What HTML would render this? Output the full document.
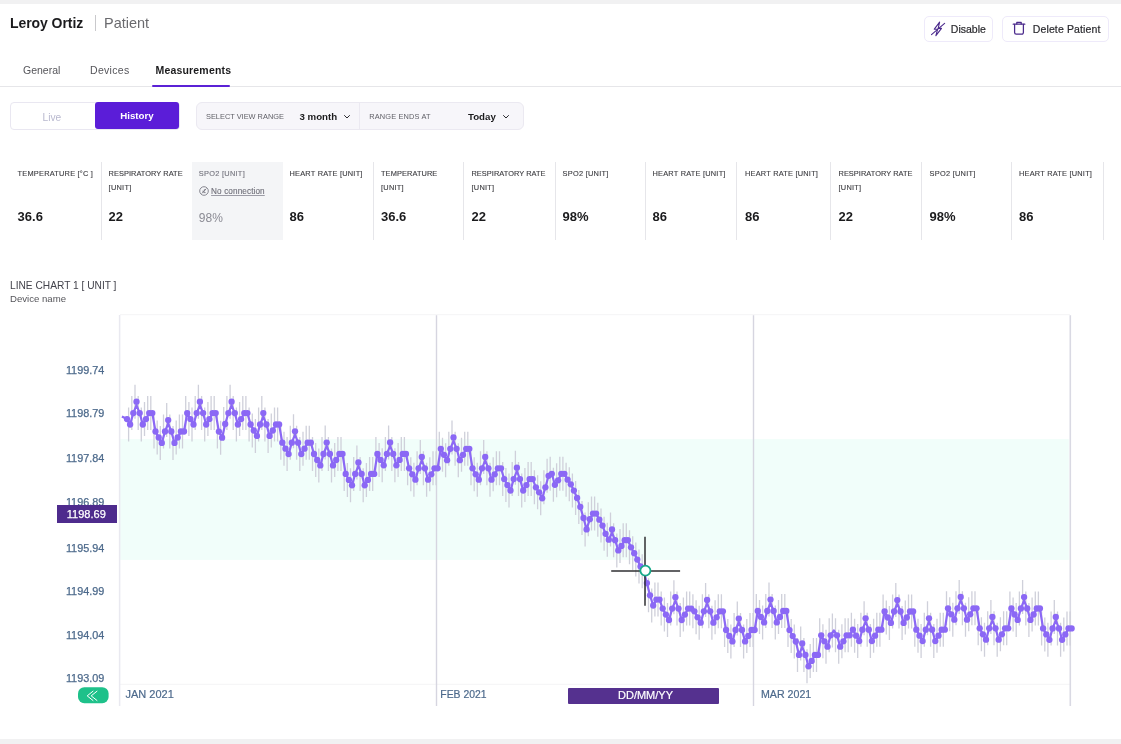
<!DOCTYPE html>
<html lang="en">
<head>
<meta charset="utf-8">
<title>Leroy Ortiz | Patient - Measurements</title>
<style>
*{box-sizing:border-box;margin:0;padding:0}
html,body{width:1121px;height:744px;overflow:hidden;background:#fff}
body{font-family:"Liberation Sans",sans-serif;color:#1c1c1e;position:relative}
.abs{position:absolute;white-space:nowrap;line-height:1}
.bar{position:absolute;left:0;width:1121px;background:#f1f1f2}
#topbar{top:0;height:4px}
#botbar{top:739px;height:5px}
#name{left:10px;top:16px;font-size:14px;letter-spacing:-.07px;font-weight:700;color:#1b1b1d}
#sep{left:95px;top:15px;width:1px;height:16px;background:#c9c9cc}
#role{left:104px;top:16px;font-size:14.5px;color:#6a6a6e}
.btn{position:absolute;top:15.7px;height:26.2px;border:1px solid #eeeafa;border-radius:5px;background:#fff}
#btn1{left:924px;width:69px}
#btn2{left:1002px;width:107px}
.btn span{-webkit-text-stroke:.2px #2a2a2e;position:absolute;top:7.3px;font-size:10.5px;color:#2a2a2e;white-space:nowrap;line-height:1}
.btn svg{position:absolute}
.tab{top:64.9px;font-size:10.5px;color:#55555a}
#tabline{position:absolute;left:0;top:86px;width:1121px;height:1px;background:#e6e6e9}
#tabul{position:absolute;left:152.2px;top:85px;width:78px;height:2.3px;background:#5b21d6;border-radius:1px}
#toggle{position:absolute;left:9.5px;top:101.8px;width:170px;height:27.9px;border:1px solid #e9e7f1;border-radius:4px;background:#fff}
#hist{position:absolute;left:95px;top:102.1px;width:84.3px;height:26.9px;background:#5b1dd8;border-radius:3px}
#live{left:42.5px;top:112.6px;font-size:10.2px;color:#b9b9cf}
#histt{left:120.3px;top:110.8px;font-size:9.7px;font-weight:700;color:#fff}
#range{position:absolute;left:196px;top:101.7px;width:328px;height:28px;border:1px solid #ebe9f1;border-radius:6px;background:#f7f6fa}
#rdiv{position:absolute;left:359px;top:103px;width:1px;height:26px;background:#ebe9f1}
.cap{font-size:7.4px;color:#5f5f66;letter-spacing:0;top:113.2px}
.sel{font-size:9.7px;font-weight:700;color:#1b1b1d;top:112px}
.card{position:absolute;top:162px;height:78px;width:91px;border-right:1px solid #e6e6ea}
.card .l{-webkit-text-stroke:.12px currentColor;position:absolute;left:7px;top:4.8px;font-size:7.4px;line-height:14.2px;color:#3c3c40;letter-spacing:.1px;white-space:nowrap}
.card .v{position:absolute;left:7px;top:47.6px;font-size:13px;font-weight:700;color:#1b1b1d;line-height:1}
.card.off{background:#f4f5f7;border-right:0;width:91.3px !important}
.card.off .l{color:#74747e}
.card.off .v{color:#8b8b94;font-weight:400;font-size:12px;top:49.6px}
#ctitle{left:10px;top:280.7px;font-size:10.2px;color:#43434c}
#csub{left:10px;top:294px;font-size:9.6px;color:#55555a}
#chart{position:absolute;left:0;top:0;width:1121px;height:744px}
#chart text{font-family:"Liberation Sans",sans-serif}
</style>
</head>
<body>
<div class="bar" id="topbar"></div>
<div class="bar" id="botbar"></div>
<div class="abs" id="name">Leroy Ortiz</div>
<div class="abs" id="sep"></div>
<div class="abs" id="role">Patient</div>

<div class="btn" id="btn1">
<svg style="left:6px;top:4px" width="16" height="16" viewBox="0 0 16 16" fill="none" stroke="#4b2a8c" stroke-width="1.1" stroke-linecap="round" stroke-linejoin="round"><path d="M8.6 1.1 3.3 8.2h3.3L4.9 14.6l5.6-7.2H7.2z"/><path d="M.5 13.6 13.6 2.4"/></svg>
<span style="left:25.8px">Disable</span></div>
<div class="btn" id="btn2">
<svg style="left:8px;top:3px" width="16" height="16" viewBox="0 0 16 16" fill="none" stroke="#4b2a8c" stroke-width="1.25" stroke-linecap="round" stroke-linejoin="round"><path d="M2.2 4.2h11.6"/><path d="M5.8 4V2.4h4.4V4"/><path d="M3.6 4.4v8.2a1.6 1.6 0 0 0 1.6 1.6h5.6a1.6 1.6 0 0 0 1.6-1.6V4.4"/></svg>
<span style="left:29.8px;letter-spacing:.12px">Delete Patient</span></div>

<div class="abs tab" id="t1" style="left:23px">General</div>
<div class="abs tab" id="t2" style="left:90px;letter-spacing:.3px">Devices</div>
<div class="abs tab" id="t3" style="left:155.5px;font-weight:700;color:#1b1b1d;letter-spacing:.18px">Measurements</div>
<div id="tabline"></div>
<div id="tabul"></div>

<div id="toggle"></div>
<div id="hist"></div>
<div class="abs" id="live">Live</div>
<div class="abs" id="histt">History</div>

<div id="range"></div>
<div id="rdiv"></div>
<div class="abs cap" id="c1" style="left:206px">SELECT VIEW RANGE</div>
<div class="abs sel" id="s1" style="left:299.5px">3 month</div>
<svg class="abs" style="left:342.5px;top:114px" width="8" height="6" viewBox="0 0 8 6" fill="none" stroke="#2a2a2e" stroke-width="1" stroke-linecap="round" stroke-linejoin="round"><path d="M1.5 1.5 4 4l2.5-2.5"/></svg>
<div class="abs cap" id="c2" style="left:369.3px;letter-spacing:.15px">RANGE ENDS AT</div>
<div class="abs sel" id="s2" style="left:468px">Today</div>
<svg class="abs" style="left:502.3px;top:114px" width="8" height="6" viewBox="0 0 8 6" fill="none" stroke="#2a2a2e" stroke-width="1" stroke-linecap="round" stroke-linejoin="round"><path d="M1.5 1.5 4 4l2.5-2.5"/></svg>

<div class="card" style="left:10px;width:92px"><div class="l" style="left:7.6px"><span style="letter-spacing:0.22px">TEMPERATURE [°C ]</span></div><div class="v" style="left:7.6px">36.6</div></div>
<div class="card" style="left:101px;width:92px"><div class="l" style="left:7.6px"><span style="letter-spacing:0.05px">RESPIRATORY RATE</span><br><span style="letter-spacing:.25px">[UNIT]</span></div><div class="v" style="left:7.6px">22</div></div>
<div class="card off" style="left:192px;width:92px"><div class="l" style="left:6.8px"><span style="letter-spacing:0.28px">SPO2 [UNIT]</span><br><svg style="position:relative;top:5.2px;left:-.2px;margin-right:2.3px" width="10" height="10" viewBox="0 0 10 10" fill="none" stroke="#74747e" stroke-width=".85"><circle cx="5" cy="5" r="4.3"/><path d="M2.9 7.4 7.3 2.6M3.4 5.2h2.2M4.4 6.6h2.2M4.9 3.8h1.6"/></svg><span style="position:relative;top:2.7px;text-decoration:underline;text-decoration-color:#9c9ca6;text-decoration-thickness:.7px;text-underline-offset:.6px;font-size:8.2px;color:#70707a">No connection</span></div><div class="v" style="left:6.8px">98%</div></div>
<div class="card" style="left:283px;width:91px"><div class="l" style="left:6.5px"><span style="letter-spacing:0.22px">HEART RATE [UNIT]</span></div><div class="v" style="left:6.5px">86</div></div>
<div class="card" style="left:373px;width:91.30000000000001px"><div class="l" style="left:8.0px"><span style="letter-spacing:0.1px">TEMPERATURE</span><br><span style="letter-spacing:.25px">[UNIT]</span></div><div class="v" style="left:8.0px">36.6</div></div>
<div class="card" style="left:463.3px;width:92.30000000000001px"><div class="l" style="left:8.2px"><span style="letter-spacing:0.05px">RESPIRATORY RATE</span><br><span style="letter-spacing:.25px">[UNIT]</span></div><div class="v" style="left:8.2px">22</div></div>
<div class="card" style="left:554.6px;width:91.39999999999998px"><div class="l" style="left:7.9px"><span style="letter-spacing:0.28px">SPO2 [UNIT]</span></div><div class="v" style="left:7.9px">98%</div></div>
<div class="card" style="left:645px;width:91.5px"><div class="l" style="left:7.5px"><span style="letter-spacing:0.22px">HEART RATE [UNIT]</span></div><div class="v" style="left:7.5px">86</div></div>
<div class="card" style="left:735.5px;width:95.0px"><div class="l" style="left:9.5px"><span style="letter-spacing:0.22px">HEART RATE [UNIT]</span></div><div class="v" style="left:9.5px">86</div></div>
<div class="card" style="left:829.5px;width:92.0px"><div class="l" style="left:9.0px"><span style="letter-spacing:0.05px">RESPIRATORY RATE</span><br><span style="letter-spacing:.25px">[UNIT]</span></div><div class="v" style="left:9.0px">22</div></div>
<div class="card" style="left:920.5px;width:91.5px"><div class="l" style="left:9.0px"><span style="letter-spacing:0.28px">SPO2 [UNIT]</span></div><div class="v" style="left:9.0px">98%</div></div>
<div class="card" style="left:1011px;width:92.5px"><div class="l" style="left:8.0px"><span style="letter-spacing:0.22px">HEART RATE [UNIT]</span></div><div class="v" style="left:8.0px">86</div></div>

<div class="abs" id="ctitle">LINE CHART 1 [ UNIT ]</div>
<div class="abs" id="csub">Device name</div>

<svg id="chart" viewBox="0 0 1121 744">
<rect x="120.2" y="439.1" width="948.6" height="120.8" fill="#f1fefa"/>
<path d="M120 314.7H1070M120 684.3H1070" stroke="#f4f4f6" stroke-width="1"/>
<path d="M119.6 315V706" stroke="#e9e9f0" stroke-width="1.5"/>
<path d="M436.5 315.3V706M753.5 315.3V706" stroke="#d6d5e0" stroke-width="1.4"/>
<path d="M1070.3 315.3V706" stroke="#d9d9e3" stroke-width="1.6"/>
<g font-size="10.85" fill="#4d6a8c" stroke="#4d6a8c" stroke-width=".25" text-anchor="end"><text x="104.3" y="373.95">1199.74</text><text x="104.3" y="416.95">1198.79</text><text x="104.3" y="461.95">1197.84</text><text x="104.3" y="505.95">1196.89</text><text x="104.3" y="551.95">1195.94</text><text x="104.3" y="594.95">1194.99</text><text x="104.3" y="638.95">1194.04</text><text x="104.3" y="681.95">1193.09</text></g>
<rect x="57" y="505" width="60" height="18" fill="#4e2b8d"/>
<text x="86.3" y="518" font-size="11" fill="#fff" stroke="#fff" stroke-width=".25" text-anchor="middle">1198.69</text>
<g font-size="11" fill="#4d6a8c" stroke="#4d6a8c" stroke-width=".2"><text x="125.5" y="697.9">JAN 2021</text><text x="440.3" y="697.9" font-size="10.4">FEB 2021</text><text x="761" y="697.9" font-size="10.65">MAR 2021</text></g>
<rect x="568" y="688" width="151" height="16" rx="1" fill="#55318f"/>
<text x="645.5" y="699.4" font-size="11" fill="#fff" stroke="#fff" stroke-width=".2" text-anchor="middle">DD/MM/YY</text>
<rect x="78" y="687.2" width="30.6" height="16" rx="6.3" fill="#1ec18a"/>
<path d="M93 691.2 87.2 695.85 93 700.5M97 691.2 91.2 695.85 97 700.5" stroke="#fff" stroke-width="1" fill="none" stroke-linecap="round" stroke-linejoin="round"/>
<path d="M128.6 407.5V441.5M131.8 396.1V430.1M135.0 384.7V418.7M138.2 396.1V430.1M141.3 407.5V441.5M144.5 402.1V436.1M147.7 396.1V430.1M150.8 396.1V430.1M154.0 414.5V448.5M157.2 420.5V454.5M160.3 425.9V459.9M163.5 414.5V448.5M166.7 403.1V437.1M169.8 414.5V448.5M173.0 425.9V459.9M176.2 420.5V454.5M179.4 414.5V448.5M182.5 414.5V448.5M185.7 396.1V430.1M188.9 402.1V436.1M192.0 407.5V441.5M195.2 396.1V430.1M198.4 384.7V418.7M201.6 396.1V430.1M204.7 407.5V441.5M207.9 402.1V436.1M211.1 396.1V430.1M214.2 396.1V430.1M217.4 414.6V448.6M220.6 420.7V454.7M223.7 407.0V441.0M226.9 396.1V430.1M230.1 384.7V418.7M233.2 396.1V430.1M236.4 407.5V441.5M239.6 402.1V436.1M242.8 396.1V430.1M245.9 396.1V430.1M249.1 407.5V441.5M252.3 413.5V447.5M255.4 418.9V452.9M258.6 407.5V441.5M261.8 396.1V430.1M264.9 407.5V441.5M268.1 418.9V452.9M271.3 413.5V447.5M274.5 407.5V441.5M277.6 407.5V441.5M280.8 425.7V459.7M284.0 431.7V465.7M287.1 437.1V471.1M290.3 425.7V459.7M293.5 414.3V448.3M296.6 425.7V459.7M299.8 437.1V471.1M303.0 431.7V465.7M306.2 425.7V459.7M309.3 425.7V459.7M312.5 437.0V471.0M315.7 443.0V477.0M318.8 448.4V482.4M322.0 437.0V471.0M325.2 425.6V459.6M328.4 437.0V471.0M331.5 448.4V482.4M334.7 443.0V477.0M337.9 437.0V471.0M341.0 437.0V471.0M344.2 456.9V490.9M347.4 462.9V496.9M350.5 468.3V502.3M353.7 456.9V490.9M356.9 445.5V479.5M360.1 456.9V490.9M363.2 468.3V502.3M366.4 462.9V496.9M369.6 456.9V490.9M372.7 456.9V490.9M375.9 436.9V470.9M379.1 442.9V476.9M382.2 448.3V482.3M385.4 436.9V470.9M388.6 425.5V459.5M391.8 436.9V470.9M394.9 448.3V482.3M398.1 442.9V476.9M401.3 436.9V470.9M404.4 436.9V470.9M407.6 451.3V485.3M410.8 457.3V491.3M413.9 462.7V496.7M417.1 451.3V485.3M420.3 439.9V473.9M423.4 451.3V485.3M426.6 462.7V496.7M429.8 457.3V491.3M433.0 451.3V485.3M436.1 451.3V485.3M439.3 431.8V465.8M442.5 437.8V471.8M445.6 443.2V477.2M448.8 431.8V465.8M452.0 420.4V454.4M455.1 431.8V465.8M458.3 443.2V477.2M461.5 437.8V471.8M464.7 431.8V465.8M467.8 431.8V465.8M471.0 451.3V485.3M474.2 457.3V491.3M477.3 462.7V496.7M480.5 451.3V485.3M483.7 439.9V473.9M486.9 451.3V485.3M490.0 462.7V496.7M493.2 457.3V491.3M496.4 451.3V485.3M499.5 451.3V485.3M502.7 462.1V496.1M505.9 468.1V502.1M509.0 473.5V507.5M512.2 462.1V496.1M515.4 450.7V484.7M518.5 462.1V496.1M521.7 473.5V507.5M524.9 468.1V502.1M528.1 462.1V496.1M531.2 462.1V496.1M534.4 470.3V504.3M537.6 475.3V509.3M540.7 481.3V515.3M543.9 470.3V504.3M547.1 458.8V492.8M550.2 456.8V490.8M553.4 467.8V501.8M556.6 463.3V497.3M559.8 456.8V490.8M562.9 456.8V490.8M566.1 462.7V496.7M569.3 467.3V501.3M572.4 473.6V507.6M575.6 481.0V515.0M578.8 490.0V524.0M582.0 501.0V535.0M585.1 512.4V546.4M588.3 502.2V536.2M591.5 496.6V530.6M594.6 496.6V530.6M597.8 502.7V536.7M601.0 508.6V542.6M604.1 516.8V550.8M607.3 522.7V556.7M610.5 512.4V546.4M613.6 523.2V557.2M616.8 533.4V567.4M620.0 529.0V563.0M623.2 523.2V557.2M626.3 523.2V557.2M629.5 530.3V564.3M632.7 536.2V570.2M635.8 542.6V576.6M639.0 549.5V583.5M642.2 554.3V588.3M645.4 566.1V600.1M648.5 578.3V612.3M651.7 588.5V622.5M654.9 582.6V616.6M658.0 582.6V616.6M661.2 591.6V625.6M664.4 597.6V631.6M667.5 603.0V637.0M670.7 591.6V625.6M673.9 580.2V614.2M677.0 591.6V625.6M680.2 603.0V637.0M683.4 597.6V631.6M686.6 591.6V625.6M689.7 591.6V625.6M692.9 594.3V628.3M696.1 600.3V634.3M699.2 605.7V639.7M702.4 594.3V628.3M705.6 582.9V616.9M708.8 594.3V628.3M711.9 605.7V639.7M715.1 600.3V634.3M718.3 594.3V628.3M721.4 594.3V628.3M724.6 613.0V647.0M727.8 619.0V653.0M730.9 624.4V658.4M734.1 613.0V647.0M737.3 601.6V635.6M740.5 613.0V647.0M743.6 624.4V658.4M746.8 619.0V653.0M750.0 613.0V647.0M753.1 613.0V647.0M756.3 594.0V628.0M759.5 600.0V634.0M762.6 605.4V639.4M765.8 594.0V628.0M769.0 582.6V616.6M772.1 594.0V628.0M775.3 605.4V639.4M778.5 600.0V634.0M781.7 594.0V628.0M784.8 594.0V628.0M788.0 613.1V647.1M791.2 619.1V653.1M794.3 624.5V658.5M797.5 637.9V671.9M800.7 626.5V660.5M803.9 637.9V671.9M807.0 649.3V683.3M810.2 643.9V677.9M813.4 637.9V671.9M816.5 637.9V671.9M819.7 618.3V652.3M822.9 624.3V658.3M826.0 629.7V663.7M829.2 618.3V652.3M832.4 613.4V647.4M835.5 618.3V652.3M838.7 629.7V663.7M841.9 624.3V658.3M845.1 618.3V652.3M848.2 618.3V652.3M851.4 612.7V646.7M854.6 618.7V652.7M857.7 624.1V658.1M860.9 612.7V646.7M864.1 601.3V635.3M867.2 612.7V646.7M870.4 624.1V658.1M873.6 618.7V652.7M876.8 612.7V646.7M879.9 612.7V646.7M883.1 594.5V628.5M886.3 600.5V634.5M889.4 605.9V639.9M892.6 594.5V628.5M895.8 583.1V617.1M899.0 594.5V628.5M902.1 605.9V639.9M905.3 600.5V634.5M908.5 594.5V628.5M911.6 594.5V628.5M914.8 612.7V646.7M918.0 618.7V652.7M921.1 624.1V658.1M924.3 612.7V646.7M927.5 601.3V635.3M930.6 612.7V646.7M933.8 624.1V658.1M937.0 618.7V652.7M940.2 612.7V646.7M943.3 612.7V646.7M946.5 591.3V625.3M949.7 597.3V631.3M952.8 602.7V636.7M956.0 591.3V625.3M959.2 579.9V613.9M962.4 591.3V625.3M965.5 602.7V636.7M968.7 597.3V631.3M971.9 591.3V625.3M975.0 591.3V625.3M978.2 611.3V645.3M981.4 617.3V651.3M984.5 622.7V656.7M987.7 611.3V645.3M990.9 599.9V633.9M994.0 611.3V645.3M997.2 622.7V656.7M1000.4 617.3V651.3M1003.6 611.3V645.3M1006.7 611.3V645.3M1009.9 591.5V625.5M1013.1 597.5V631.5M1016.2 602.9V636.9M1019.4 591.5V625.5M1022.6 580.1V614.1M1025.8 591.5V625.5M1028.9 602.9V636.9M1032.1 597.5V631.5M1035.3 591.5V625.5M1038.4 591.5V625.5M1041.6 611.4V645.4M1044.8 617.4V651.4M1047.9 622.8V656.8M1051.1 611.4V645.4M1054.3 600.0V634.0M1057.5 611.4V645.4M1060.6 622.8V656.8M1063.8 617.4V651.4M1067.0 611.4V645.4M1070.1 611.4V645.4" stroke="#cfd0da" stroke-width="1.3" fill="none"/>
<polyline fill="none" stroke="#8b68f5" stroke-width="2.2" stroke-linejoin="round" points="121.9,416.5 127.0,419.1 130.1,424.5 133.3,413.1 136.5,405.1 139.7,413.1 142.8,424.5 146.0,419.1 149.2,413.1 152.3,413.1 155.5,431.5 158.7,437.5 161.8,442.9 165.0,431.5 168.2,423.5 171.3,431.5 174.5,442.9 177.7,437.5 180.9,431.5 184.0,431.5 187.2,413.1 190.4,419.1 193.5,424.5 196.7,413.1 199.9,405.1 203.1,413.1 206.2,424.5 209.4,419.1 212.6,413.1 215.7,413.1 218.9,431.6 222.1,437.7 225.2,424.0 228.4,413.1 231.6,405.1 234.8,413.1 237.9,424.5 241.1,419.1 244.3,413.1 247.4,413.1 250.6,424.5 253.8,430.5 256.9,435.9 260.1,424.5 263.3,416.5 266.4,424.5 269.6,435.9 272.8,430.5 276.0,424.5 279.1,424.5 282.3,442.7 285.5,448.7 288.6,454.1 291.8,442.7 295.0,434.7 298.1,442.7 301.3,454.1 304.5,448.7 307.7,442.7 310.8,442.7 314.0,454.0 317.2,460.0 320.3,465.4 323.5,454.0 326.7,446.0 329.9,454.0 333.0,465.4 336.2,460.0 339.4,454.0 342.5,454.0 345.7,473.9 348.9,479.9 352.0,485.3 355.2,473.9 358.4,465.9 361.6,473.9 364.7,485.3 367.9,479.9 371.1,473.9 374.2,473.9 377.4,453.9 380.6,459.9 383.7,465.3 386.9,453.9 390.1,445.9 393.2,453.9 396.4,465.3 399.6,459.9 402.8,453.9 405.9,453.9 409.1,468.3 412.3,474.3 415.4,479.7 418.6,468.3 421.8,460.3 424.9,468.3 428.1,479.7 431.3,474.3 434.5,468.3 437.6,468.3 440.8,448.8 444.0,454.8 447.1,460.2 450.3,448.8 453.5,440.8 456.6,448.8 459.8,460.2 463.0,454.8 466.2,448.8 469.3,448.8 472.5,468.3 475.7,474.3 478.8,479.7 482.0,468.3 485.2,460.3 488.4,468.3 491.5,479.7 494.7,474.3 497.9,468.3 501.0,468.3 504.2,479.1 507.4,485.1 510.5,490.5 513.7,479.1 516.9,471.1 520.0,479.1 523.2,490.5 526.4,485.1 529.6,479.1 532.7,479.1 535.9,487.3 539.1,492.3 542.2,498.3 545.4,487.3 548.6,475.8 551.8,473.8 554.9,484.8 558.1,480.3 561.3,473.8 564.4,473.8 567.6,479.7 570.8,484.3 573.9,490.6 577.1,498.0 580.3,507.0 583.5,518.0 586.6,529.4 589.8,519.2 593.0,513.6 596.1,513.6 599.3,519.7 602.5,525.6 605.6,533.8 608.8,539.7 612.0,532.8 615.1,540.2 618.3,550.4 621.5,546.0 624.7,540.2 627.8,540.2 631.0,547.3 634.2,553.2 637.3,559.6 640.5,566.5 643.7,571.3 646.9,583.1 650.0,595.3 653.2,605.5 656.4,599.6 659.5,599.6 662.7,608.6 665.9,614.6 669.0,620.0 672.2,608.6 675.4,600.6 678.5,608.6 681.7,620.0 684.9,614.6 688.1,608.6 691.2,608.6 694.4,611.3 697.6,617.3 700.7,622.7 703.9,611.3 707.1,603.3 710.2,611.3 713.4,622.7 716.6,617.3 719.8,611.3 722.9,611.3 726.1,630.0 729.3,636.0 732.4,641.4 735.6,630.0 738.8,622.0 742.0,630.0 745.1,641.4 748.3,636.0 751.5,630.0 754.6,630.0 757.8,611.0 761.0,617.0 764.1,622.4 767.3,611.0 770.5,603.0 773.6,611.0 776.8,622.4 780.0,617.0 783.2,611.0 786.3,611.0 789.5,630.1 792.7,636.1 795.8,641.5 799.0,654.9 802.2,646.9 805.4,654.9 808.5,666.3 811.7,660.9 814.9,654.9 818.0,654.9 821.2,635.3 824.4,641.3 827.5,646.7 830.7,635.3 833.9,630.4 837.0,635.3 840.2,646.7 843.4,641.3 846.6,635.3 849.7,635.3 852.9,629.7 856.1,635.7 859.2,641.1 862.4,629.7 865.6,621.7 868.8,629.7 871.9,641.1 875.1,635.7 878.3,629.7 881.4,629.7 884.6,611.5 887.8,617.5 890.9,622.9 894.1,611.5 897.3,603.5 900.5,611.5 903.6,622.9 906.8,617.5 910.0,611.5 913.1,611.5 916.3,629.7 919.5,635.7 922.6,641.1 925.8,629.7 929.0,621.7 932.1,629.7 935.3,641.1 938.5,635.7 941.7,629.7 944.8,629.7 948.0,608.3 951.2,614.3 954.3,619.7 957.5,608.3 960.7,600.3 963.9,608.3 967.0,619.7 970.2,614.3 973.4,608.3 976.5,608.3 979.7,628.3 982.9,634.3 986.0,639.7 989.2,628.3 992.4,620.3 995.5,628.3 998.7,639.7 1001.9,634.3 1005.1,628.3 1008.2,628.3 1011.4,608.5 1014.6,614.5 1017.7,619.9 1020.9,608.5 1024.1,600.5 1027.2,608.5 1030.4,619.9 1033.6,614.5 1036.8,608.5 1039.9,608.5 1043.1,628.4 1046.3,634.4 1049.4,639.8 1052.6,628.4 1055.8,620.4 1059.0,628.4 1062.1,639.8 1065.3,634.4 1068.5,628.4 1071.6,628.4"/>
<g fill="#8b68f5"><circle cx="127.0" cy="419.1" r="3.15"/><circle cx="130.1" cy="424.5" r="3.15"/><circle cx="133.3" cy="413.1" r="3.15"/><circle cx="136.5" cy="401.7" r="3.15"/><circle cx="139.7" cy="413.1" r="3.15"/><circle cx="142.8" cy="424.5" r="3.15"/><circle cx="146.0" cy="419.1" r="3.15"/><circle cx="149.2" cy="413.1" r="3.15"/><circle cx="152.3" cy="413.1" r="3.15"/><circle cx="155.5" cy="431.5" r="3.15"/><circle cx="158.7" cy="437.5" r="3.15"/><circle cx="161.8" cy="442.9" r="3.15"/><circle cx="165.0" cy="431.5" r="3.15"/><circle cx="168.2" cy="420.1" r="3.15"/><circle cx="171.3" cy="431.5" r="3.15"/><circle cx="174.5" cy="442.9" r="3.15"/><circle cx="177.7" cy="437.5" r="3.15"/><circle cx="180.9" cy="431.5" r="3.15"/><circle cx="184.0" cy="431.5" r="3.15"/><circle cx="187.2" cy="413.1" r="3.15"/><circle cx="190.4" cy="419.1" r="3.15"/><circle cx="193.5" cy="424.5" r="3.15"/><circle cx="196.7" cy="413.1" r="3.15"/><circle cx="199.9" cy="401.7" r="3.15"/><circle cx="203.1" cy="413.1" r="3.15"/><circle cx="206.2" cy="424.5" r="3.15"/><circle cx="209.4" cy="419.1" r="3.15"/><circle cx="212.6" cy="413.1" r="3.15"/><circle cx="215.7" cy="413.1" r="3.15"/><circle cx="218.9" cy="431.6" r="3.15"/><circle cx="222.1" cy="437.7" r="3.15"/><circle cx="225.2" cy="424.0" r="3.15"/><circle cx="228.4" cy="413.1" r="3.15"/><circle cx="231.6" cy="401.7" r="3.15"/><circle cx="234.8" cy="413.1" r="3.15"/><circle cx="237.9" cy="424.5" r="3.15"/><circle cx="241.1" cy="419.1" r="3.15"/><circle cx="244.3" cy="413.1" r="3.15"/><circle cx="247.4" cy="413.1" r="3.15"/><circle cx="250.6" cy="424.5" r="3.15"/><circle cx="253.8" cy="430.5" r="3.15"/><circle cx="256.9" cy="435.9" r="3.15"/><circle cx="260.1" cy="424.5" r="3.15"/><circle cx="263.3" cy="413.1" r="3.15"/><circle cx="266.4" cy="424.5" r="3.15"/><circle cx="269.6" cy="435.9" r="3.15"/><circle cx="272.8" cy="430.5" r="3.15"/><circle cx="276.0" cy="424.5" r="3.15"/><circle cx="279.1" cy="424.5" r="3.15"/><circle cx="282.3" cy="442.7" r="3.15"/><circle cx="285.5" cy="448.7" r="3.15"/><circle cx="288.6" cy="454.1" r="3.15"/><circle cx="291.8" cy="442.7" r="3.15"/><circle cx="295.0" cy="431.3" r="3.15"/><circle cx="298.1" cy="442.7" r="3.15"/><circle cx="301.3" cy="454.1" r="3.15"/><circle cx="304.5" cy="448.7" r="3.15"/><circle cx="307.7" cy="442.7" r="3.15"/><circle cx="310.8" cy="442.7" r="3.15"/><circle cx="314.0" cy="454.0" r="3.15"/><circle cx="317.2" cy="460.0" r="3.15"/><circle cx="320.3" cy="465.4" r="3.15"/><circle cx="323.5" cy="454.0" r="3.15"/><circle cx="326.7" cy="442.6" r="3.15"/><circle cx="329.9" cy="454.0" r="3.15"/><circle cx="333.0" cy="465.4" r="3.15"/><circle cx="336.2" cy="460.0" r="3.15"/><circle cx="339.4" cy="454.0" r="3.15"/><circle cx="342.5" cy="454.0" r="3.15"/><circle cx="345.7" cy="473.9" r="3.15"/><circle cx="348.9" cy="479.9" r="3.15"/><circle cx="352.0" cy="485.3" r="3.15"/><circle cx="355.2" cy="473.9" r="3.15"/><circle cx="358.4" cy="462.5" r="3.15"/><circle cx="361.6" cy="473.9" r="3.15"/><circle cx="364.7" cy="485.3" r="3.15"/><circle cx="367.9" cy="479.9" r="3.15"/><circle cx="371.1" cy="473.9" r="3.15"/><circle cx="374.2" cy="473.9" r="3.15"/><circle cx="377.4" cy="453.9" r="3.15"/><circle cx="380.6" cy="459.9" r="3.15"/><circle cx="383.7" cy="465.3" r="3.15"/><circle cx="386.9" cy="453.9" r="3.15"/><circle cx="390.1" cy="442.5" r="3.15"/><circle cx="393.2" cy="453.9" r="3.15"/><circle cx="396.4" cy="465.3" r="3.15"/><circle cx="399.6" cy="459.9" r="3.15"/><circle cx="402.8" cy="453.9" r="3.15"/><circle cx="405.9" cy="453.9" r="3.15"/><circle cx="409.1" cy="468.3" r="3.15"/><circle cx="412.3" cy="474.3" r="3.15"/><circle cx="415.4" cy="479.7" r="3.15"/><circle cx="418.6" cy="468.3" r="3.15"/><circle cx="421.8" cy="456.9" r="3.15"/><circle cx="424.9" cy="468.3" r="3.15"/><circle cx="428.1" cy="479.7" r="3.15"/><circle cx="431.3" cy="474.3" r="3.15"/><circle cx="434.5" cy="468.3" r="3.15"/><circle cx="437.6" cy="468.3" r="3.15"/><circle cx="440.8" cy="448.8" r="3.15"/><circle cx="444.0" cy="454.8" r="3.15"/><circle cx="447.1" cy="460.2" r="3.15"/><circle cx="450.3" cy="448.8" r="3.15"/><circle cx="453.5" cy="437.4" r="3.15"/><circle cx="456.6" cy="448.8" r="3.15"/><circle cx="459.8" cy="460.2" r="3.15"/><circle cx="463.0" cy="454.8" r="3.15"/><circle cx="466.2" cy="448.8" r="3.15"/><circle cx="469.3" cy="448.8" r="3.15"/><circle cx="472.5" cy="468.3" r="3.15"/><circle cx="475.7" cy="474.3" r="3.15"/><circle cx="478.8" cy="479.7" r="3.15"/><circle cx="482.0" cy="468.3" r="3.15"/><circle cx="485.2" cy="456.9" r="3.15"/><circle cx="488.4" cy="468.3" r="3.15"/><circle cx="491.5" cy="479.7" r="3.15"/><circle cx="494.7" cy="474.3" r="3.15"/><circle cx="497.9" cy="468.3" r="3.15"/><circle cx="501.0" cy="468.3" r="3.15"/><circle cx="504.2" cy="479.1" r="3.15"/><circle cx="507.4" cy="485.1" r="3.15"/><circle cx="510.5" cy="490.5" r="3.15"/><circle cx="513.7" cy="479.1" r="3.15"/><circle cx="516.9" cy="467.7" r="3.15"/><circle cx="520.0" cy="479.1" r="3.15"/><circle cx="523.2" cy="490.5" r="3.15"/><circle cx="526.4" cy="485.1" r="3.15"/><circle cx="529.6" cy="479.1" r="3.15"/><circle cx="532.7" cy="479.1" r="3.15"/><circle cx="535.9" cy="487.3" r="3.15"/><circle cx="539.1" cy="492.3" r="3.15"/><circle cx="542.2" cy="498.3" r="3.15"/><circle cx="545.4" cy="487.3" r="3.15"/><circle cx="548.6" cy="475.8" r="3.15"/><circle cx="551.8" cy="473.8" r="3.15"/><circle cx="554.9" cy="484.8" r="3.15"/><circle cx="558.1" cy="480.3" r="3.15"/><circle cx="561.3" cy="473.8" r="3.15"/><circle cx="564.4" cy="473.8" r="3.15"/><circle cx="567.6" cy="479.7" r="3.15"/><circle cx="570.8" cy="484.3" r="3.15"/><circle cx="573.9" cy="490.6" r="3.15"/><circle cx="577.1" cy="498.0" r="3.15"/><circle cx="580.3" cy="507.0" r="3.15"/><circle cx="583.5" cy="518.0" r="3.15"/><circle cx="586.6" cy="529.4" r="3.15"/><circle cx="589.8" cy="519.2" r="3.15"/><circle cx="593.0" cy="513.6" r="3.15"/><circle cx="596.1" cy="513.6" r="3.15"/><circle cx="599.3" cy="519.7" r="3.15"/><circle cx="602.5" cy="525.6" r="3.15"/><circle cx="605.6" cy="533.8" r="3.15"/><circle cx="608.8" cy="539.7" r="3.15"/><circle cx="612.0" cy="529.4" r="3.15"/><circle cx="615.1" cy="540.2" r="3.15"/><circle cx="618.3" cy="550.4" r="3.15"/><circle cx="621.5" cy="546.0" r="3.15"/><circle cx="624.7" cy="540.2" r="3.15"/><circle cx="627.8" cy="540.2" r="3.15"/><circle cx="631.0" cy="547.3" r="3.15"/><circle cx="634.2" cy="553.2" r="3.15"/><circle cx="637.3" cy="559.6" r="3.15"/><circle cx="640.5" cy="566.5" r="3.15"/><circle cx="643.7" cy="571.3" r="3.15"/><circle cx="646.9" cy="583.1" r="3.15"/><circle cx="650.0" cy="595.3" r="3.15"/><circle cx="653.2" cy="605.5" r="3.15"/><circle cx="656.4" cy="599.6" r="3.15"/><circle cx="659.5" cy="599.6" r="3.15"/><circle cx="662.7" cy="608.6" r="3.15"/><circle cx="665.9" cy="614.6" r="3.15"/><circle cx="669.0" cy="620.0" r="3.15"/><circle cx="672.2" cy="608.6" r="3.15"/><circle cx="675.4" cy="597.2" r="3.15"/><circle cx="678.5" cy="608.6" r="3.15"/><circle cx="681.7" cy="620.0" r="3.15"/><circle cx="684.9" cy="614.6" r="3.15"/><circle cx="688.1" cy="608.6" r="3.15"/><circle cx="691.2" cy="608.6" r="3.15"/><circle cx="694.4" cy="611.3" r="3.15"/><circle cx="697.6" cy="617.3" r="3.15"/><circle cx="700.7" cy="622.7" r="3.15"/><circle cx="703.9" cy="611.3" r="3.15"/><circle cx="707.1" cy="599.9" r="3.15"/><circle cx="710.2" cy="611.3" r="3.15"/><circle cx="713.4" cy="622.7" r="3.15"/><circle cx="716.6" cy="617.3" r="3.15"/><circle cx="719.8" cy="611.3" r="3.15"/><circle cx="722.9" cy="611.3" r="3.15"/><circle cx="726.1" cy="630.0" r="3.15"/><circle cx="729.3" cy="636.0" r="3.15"/><circle cx="732.4" cy="641.4" r="3.15"/><circle cx="735.6" cy="630.0" r="3.15"/><circle cx="738.8" cy="618.6" r="3.15"/><circle cx="742.0" cy="630.0" r="3.15"/><circle cx="745.1" cy="641.4" r="3.15"/><circle cx="748.3" cy="636.0" r="3.15"/><circle cx="751.5" cy="630.0" r="3.15"/><circle cx="754.6" cy="630.0" r="3.15"/><circle cx="757.8" cy="611.0" r="3.15"/><circle cx="761.0" cy="617.0" r="3.15"/><circle cx="764.1" cy="622.4" r="3.15"/><circle cx="767.3" cy="611.0" r="3.15"/><circle cx="770.5" cy="599.6" r="3.15"/><circle cx="773.6" cy="611.0" r="3.15"/><circle cx="776.8" cy="622.4" r="3.15"/><circle cx="780.0" cy="617.0" r="3.15"/><circle cx="783.2" cy="611.0" r="3.15"/><circle cx="786.3" cy="611.0" r="3.15"/><circle cx="789.5" cy="630.1" r="3.15"/><circle cx="792.7" cy="636.1" r="3.15"/><circle cx="795.8" cy="641.5" r="3.15"/><circle cx="799.0" cy="654.9" r="3.15"/><circle cx="802.2" cy="643.5" r="3.15"/><circle cx="805.4" cy="654.9" r="3.15"/><circle cx="808.5" cy="666.3" r="3.15"/><circle cx="811.7" cy="660.9" r="3.15"/><circle cx="814.9" cy="654.9" r="3.15"/><circle cx="818.0" cy="654.9" r="3.15"/><circle cx="821.2" cy="635.3" r="3.15"/><circle cx="824.4" cy="641.3" r="3.15"/><circle cx="827.5" cy="646.7" r="3.15"/><circle cx="830.7" cy="635.3" r="3.15"/><circle cx="837.0" cy="635.3" r="3.15"/><circle cx="840.2" cy="646.7" r="3.15"/><circle cx="843.4" cy="641.3" r="3.15"/><circle cx="846.6" cy="635.3" r="3.15"/><circle cx="849.7" cy="635.3" r="3.15"/><circle cx="852.9" cy="629.7" r="3.15"/><circle cx="856.1" cy="635.7" r="3.15"/><circle cx="859.2" cy="641.1" r="3.15"/><circle cx="862.4" cy="629.7" r="3.15"/><circle cx="865.6" cy="618.3" r="3.15"/><circle cx="868.8" cy="629.7" r="3.15"/><circle cx="871.9" cy="641.1" r="3.15"/><circle cx="875.1" cy="635.7" r="3.15"/><circle cx="878.3" cy="629.7" r="3.15"/><circle cx="881.4" cy="629.7" r="3.15"/><circle cx="884.6" cy="611.5" r="3.15"/><circle cx="887.8" cy="617.5" r="3.15"/><circle cx="890.9" cy="622.9" r="3.15"/><circle cx="894.1" cy="611.5" r="3.15"/><circle cx="897.3" cy="600.1" r="3.15"/><circle cx="900.5" cy="611.5" r="3.15"/><circle cx="903.6" cy="622.9" r="3.15"/><circle cx="906.8" cy="617.5" r="3.15"/><circle cx="910.0" cy="611.5" r="3.15"/><circle cx="913.1" cy="611.5" r="3.15"/><circle cx="916.3" cy="629.7" r="3.15"/><circle cx="919.5" cy="635.7" r="3.15"/><circle cx="922.6" cy="641.1" r="3.15"/><circle cx="925.8" cy="629.7" r="3.15"/><circle cx="929.0" cy="618.3" r="3.15"/><circle cx="932.1" cy="629.7" r="3.15"/><circle cx="935.3" cy="641.1" r="3.15"/><circle cx="938.5" cy="635.7" r="3.15"/><circle cx="941.7" cy="629.7" r="3.15"/><circle cx="944.8" cy="629.7" r="3.15"/><circle cx="948.0" cy="608.3" r="3.15"/><circle cx="951.2" cy="614.3" r="3.15"/><circle cx="954.3" cy="619.7" r="3.15"/><circle cx="957.5" cy="608.3" r="3.15"/><circle cx="960.7" cy="596.9" r="3.15"/><circle cx="963.9" cy="608.3" r="3.15"/><circle cx="967.0" cy="619.7" r="3.15"/><circle cx="970.2" cy="614.3" r="3.15"/><circle cx="973.4" cy="608.3" r="3.15"/><circle cx="976.5" cy="608.3" r="3.15"/><circle cx="979.7" cy="628.3" r="3.15"/><circle cx="982.9" cy="634.3" r="3.15"/><circle cx="986.0" cy="639.7" r="3.15"/><circle cx="989.2" cy="628.3" r="3.15"/><circle cx="992.4" cy="616.9" r="3.15"/><circle cx="995.5" cy="628.3" r="3.15"/><circle cx="998.7" cy="639.7" r="3.15"/><circle cx="1001.9" cy="634.3" r="3.15"/><circle cx="1005.1" cy="628.3" r="3.15"/><circle cx="1008.2" cy="628.3" r="3.15"/><circle cx="1011.4" cy="608.5" r="3.15"/><circle cx="1014.6" cy="614.5" r="3.15"/><circle cx="1017.7" cy="619.9" r="3.15"/><circle cx="1020.9" cy="608.5" r="3.15"/><circle cx="1024.1" cy="597.1" r="3.15"/><circle cx="1027.2" cy="608.5" r="3.15"/><circle cx="1030.4" cy="619.9" r="3.15"/><circle cx="1033.6" cy="614.5" r="3.15"/><circle cx="1036.8" cy="608.5" r="3.15"/><circle cx="1039.9" cy="608.5" r="3.15"/><circle cx="1043.1" cy="628.4" r="3.15"/><circle cx="1046.3" cy="634.4" r="3.15"/><circle cx="1049.4" cy="639.8" r="3.15"/><circle cx="1052.6" cy="628.4" r="3.15"/><circle cx="1055.8" cy="617.0" r="3.15"/><circle cx="1059.0" cy="628.4" r="3.15"/><circle cx="1062.1" cy="639.8" r="3.15"/><circle cx="1065.3" cy="634.4" r="3.15"/><circle cx="1068.5" cy="628.4" r="3.15"/><circle cx="1071.6" cy="628.4" r="3.15"/></g>
<path d="M611.2 571H680.1M645 536.8V605.7" stroke="#303033" stroke-width="1.5"/>
<circle cx="645.4" cy="570.6" r="5.05" fill="#fff" stroke="#17a98a" stroke-width="1.8"/>
</svg>
</body>
</html>
